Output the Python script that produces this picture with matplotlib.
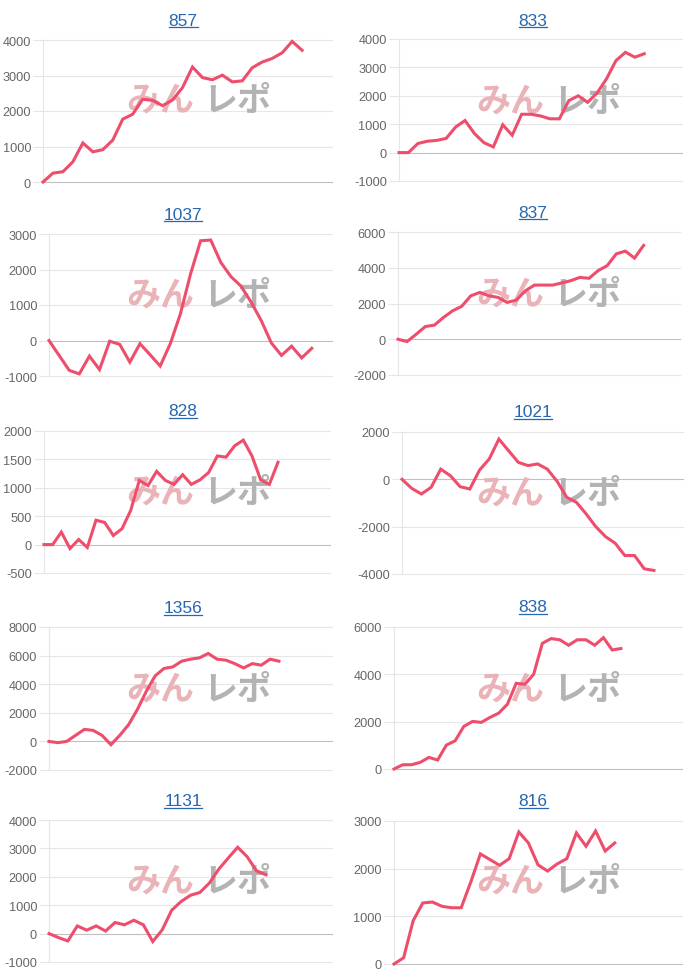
import matplotlib
matplotlib.use('Agg')
import matplotlib.pyplot as plt
from matplotlib.lines import Line2D
from matplotlib.transforms import IdentityTransform

# ---------------- data ----------------
titles = ['857', '833', '1037', '837', '828', '1021', '1356', '838', '1131', '816']

s857 = [0, 250, 290, 570, 1100, 850, 910, 1180, 1770, 1910, 2330, 2300, 2150, 2310,
        2660, 3240, 2940, 2880, 3010, 2820, 2850, 3220, 3380, 3480, 3640, 3960, 3710]
s833 = [0, 0, 320, 400, 430, 500, 900, 1130, 670, 350, 200, 980, 610, 1350, 1350,
        1290, 1190, 1190, 1830, 2000, 1770, 2100, 2600, 3240, 3530, 3360, 3480]
s1037 = [0, -420, -840, -940, -440, -820, -20, -110, -610, -90, -400, -720, -90, 750,
         1870, 2810, 2830, 2200, 1800, 1530, 1080, 560, -70, -420, -160, -490, -220]
s837 = [0, -130, 280, 710, 790, 1220, 1590, 1840, 2430, 2620, 2430, 2340, 2060, 2190,
        2710, 3030, 3030, 3030, 3150, 3280, 3460, 3410, 3840, 4120, 4780, 4930, 4540, 5250]
s828 = [0, 0, 220, -70, 90, -50, 430, 390, 160, 280, 600, 1130, 1040, 1290, 1130, 1060,
        1230, 1060, 1140, 1270, 1560, 1540, 1740, 1840, 1560, 1140, 1060, 1450]
s1021 = [0, -380, -620, -340, 430, 150, -310, -410, 390, 860, 1700, 1210, 720, 580, 650,
         430, -80, -760, -970, -1460, -2000, -2420, -2700, -3220, -3220, -3780, -3850]
s1356 = [0, -90, 0, 420, 840, 770, 420, -230, 420, 1170, 2240, 3500, 4580, 5100, 5210,
         5610, 5750, 5840, 6150, 5750, 5680, 5440, 5140, 5440, 5330, 5750, 5610]
s838 = [0, 180, 180, 280, 490, 380, 1010, 1190, 1800, 2010, 1970, 2180, 2360, 2740,
        3620, 3580, 4000, 5310, 5510, 5460, 5230, 5460, 5460, 5230, 5550, 5030, 5090]
s1131 = [0, -140, -260, 270, 120, 270, 90, 390, 310, 470, 310, -280, 130, 820, 1130,
         1350, 1450, 1780, 2270, 2660, 3040, 2710, 2210, 2070]
s816 = [0, 130, 910, 1280, 1300, 1210, 1180, 1180, 1720, 2310, 2190, 2070, 2210, 2770,
        2540, 2080, 1950, 2100, 2210, 2750, 2470, 2790, 2370, 2540]

series = [s857, s833, s1037, s837, s828, s1021, s1356, s838, s1131, s816]

yticks_list = [
    [0, 1000, 2000, 3000, 4000],
    [-1000, 0, 1000, 2000, 3000, 4000],
    [-1000, 0, 1000, 2000, 3000],
    [-2000, 0, 2000, 4000, 6000],
    [-500, 0, 500, 1000, 1500, 2000],
    [-4000, -2000, 0, 2000],
    [-2000, 0, 2000, 4000, 6000, 8000],
    [0, 2000, 4000, 6000],
    [-1000, 0, 1000, 2000, 3000, 4000],
    [0, 1000, 2000, 3000],
]

# ---------------- layout (pixels) ----------------
W, H = 700, 979
boxes = [  # left, right, top, bottom
    (43, 332, 41, 183), (399, 682, 40, 182),
    (49, 332, 235, 377), (398, 680, 233, 376),
    (44, 330, 432, 574), (402, 683, 433, 575),
    (49, 332, 628, 771), (394, 682, 628, 770),
    (49, 332, 821, 963), (394, 682, 822, 965),
]
slots = [29, 30, 28, 31, 33, 29, 32, 33, 30, 30]
title_y = [21, 21, 215, 213, 412, 413, 609, 608, 802, 802]
title_x = [183, 533]
wm_y = [100, 101, 295, 294, 492, 493, 689, 689, 881, 881]
wm_x = [200, 550]

LINE = '#ee4d6c'
GRID = '#e6e6e6'
ZERO = '#c0c0c0'
PX = 0.72  # points per pixel at 100 dpi

fig = plt.figure(figsize=(W / 100, H / 100), dpi=100)
fig.patch.set_facecolor('white')

title_texts = []
for i, (vals, yt) in enumerate(zip(series, yticks_list)):
    l, r, t, b = boxes[i]
    ax = fig.add_axes([l / W, 1 - b / H, (r - l) / W, (b - t) / H])
    ax.set_facecolor('none')
    for sp in ax.spines.values():
        sp.set_visible(False)
    ax.set_xlim(0, slots[i])
    ax.set_ylim(yt[0], yt[-1])
    ax.set_xticks([])
    ax.set_yticks(yt)
    ax.set_yticklabels([str(v) for v in yt], family='Liberation Sans')
    ax.tick_params(axis='y', length=10 * PX, width=0.8, color=GRID,
                   pad=2 * PX, labelsize=9.2, labelcolor='#666666')
    for v, tk in zip(yt, ax.yaxis.get_major_ticks()):
        if v == 0:
            tk.tick1line.set_color(ZERO)
    for v in yt:
        ax.axhline(v, color=ZERO if v == 0 else GRID, lw=0.8, zorder=0.5,
                   clip_on=False)
    ax.axvline(0, color=GRID, lw=0.8, zorder=0.5, clip_on=False)
    ax.plot(range(len(vals)), vals, color=LINE, lw=2.2, zorder=3,
            solid_joinstyle='miter', clip_on=False)

    col = i % 2
    cx = wm_x[col]
    cy = wm_y[i]
    ax.text((cx - 40) / W, 1 - cy / H, 'みん', transform=fig.transFigure,
            ha='center', va='center', fontsize=24.5, fontweight='bold',
            color='#eab3b8', family=['Noto Sans CJK JP', 'DejaVu Sans'], zorder=1)
    ax.text((cx + 37) / W, 1 - cy / H, 'レポ', transform=fig.transFigure,
            ha='center', va='center', fontsize=24.5, fontweight='bold',
            color='#b3b3b3', family=['Noto Sans CJK JP', 'DejaVu Sans'], zorder=1)

    tt = fig.text(title_x[col] / W, 1 - title_y[i] / H, titles[i], ha='center',
                  va='center', fontsize=12.5, color='#2767b0',
                  family='Liberation Sans')
    title_texts.append(tt)

fig.canvas.draw()
renderer = fig.canvas.get_renderer()
for tt in title_texts:
    bb = tt.get_window_extent(renderer)
    y = bb.y0 + 0.5
    fig.add_artist(Line2D([bb.x0, bb.x1], [y, y], color='#2767b0', lw=0.9,
                          transform=IdentityTransform()))

fig.savefig('out.png', dpi=100, facecolor='white')
